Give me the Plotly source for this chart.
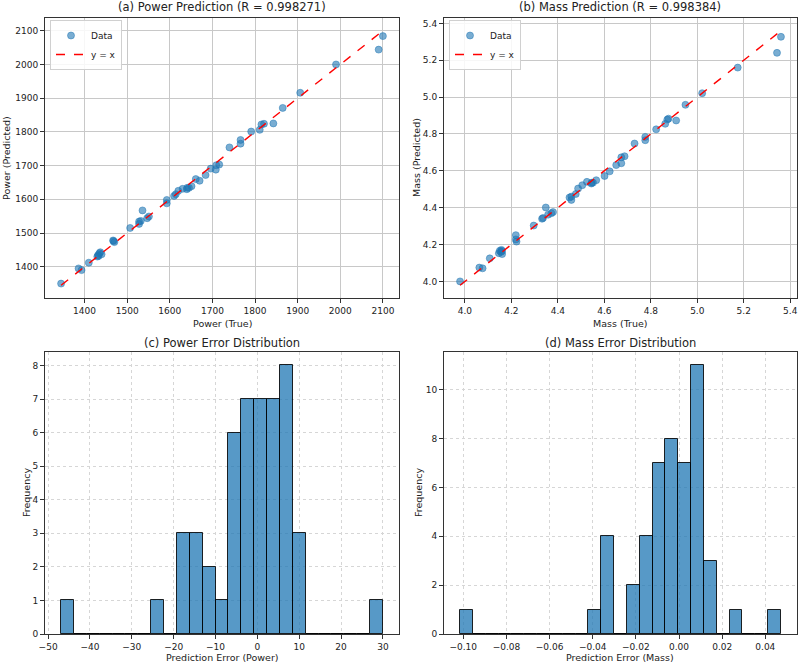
import plotly.graph_objects as go

# ---------------- Data ----------------
power_true = [1345, 1386, 1393, 1410, 1430, 1432, 1435, 1437, 1440, 1433,
              1467, 1470, 1468, 1507, 1528, 1528, 1532, 1536, 1547, 1551,
              1593, 1593, 1610, 1614, 1620, 1630, 1641, 1645, 1651, 1640,
              1661, 1670, 1684, 1696, 1708, 1709, 1716, 1740, 1766, 1766,
              1791, 1811, 1815, 1821, 1843, 1865, 1906, 1990, 2090, 2100]
power_pred = [1350, 1395, 1390, 1412, 1430, 1435, 1440, 1443, 1437, 1432,
              1478, 1473, 1476, 1515, 1534, 1527, 1536, 1567, 1544, 1549,
              1598, 1588, 1610, 1615, 1625, 1631, 1634, 1634, 1639, 1630,
              1660, 1655, 1672, 1691, 1688, 1701, 1703, 1754, 1776, 1765,
              1801, 1806, 1822, 1824, 1825, 1871, 1916, 2000, 2044, 2084]

mass_true = [3.979, 4.062, 4.076, 4.107, 4.146, 4.150, 4.157, 4.160, 4.155, 4.160,
             4.219, 4.219, 4.222, 4.296, 4.332, 4.336, 4.348, 4.358, 4.372, 4.379,
             4.458, 4.458, 4.450, 4.477, 4.487, 4.505, 4.525, 4.544, 4.551, 4.545,
             4.565, 4.601, 4.623, 4.651, 4.673, 4.673, 4.687, 4.730, 4.776, 4.776,
             4.823, 4.862, 4.871, 4.876, 4.909, 4.949, 5.021, 5.174, 5.343, 5.360]
mass_pred = [4.000, 4.075, 4.071, 4.125, 4.153, 4.166, 4.171, 4.148, 4.160, 4.165,
             4.251, 4.228, 4.216, 4.303, 4.340, 4.344, 4.401, 4.362, 4.370, 4.376,
             4.460, 4.442, 4.455, 4.474, 4.504, 4.522, 4.540, 4.531, 4.536, 4.535,
             4.549, 4.572, 4.597, 4.631, 4.641, 4.673, 4.679, 4.748, 4.784, 4.766,
             4.825, 4.855, 4.878, 4.883, 4.873, 4.958, 5.021, 5.160, 5.240, 5.327]

power_r = "0.998271"
mass_r = "0.998384"

# histogram bins (25 bins each): start, width, counts
power_bin_start = -46.9
power_bin_width = 3.076
power_counts = [1, 0, 0, 0, 0, 0, 0, 1, 0, 3, 3, 2, 1, 6, 7, 7, 7, 8, 3, 0, 0, 0, 0, 0, 1]

mass_bin_start = -0.1015
mass_bin_width = 0.00595
mass_counts = [1, 0, 0, 0, 0, 0, 0, 0, 0, 0, 1, 4, 0, 2, 4, 7, 8, 7, 11, 3, 0, 1, 0, 0, 1]

power_x_ticks = [1400, 1500, 1600, 1700, 1800, 1900, 2000, 2100]
mass_ticks = [4.0, 4.2, 4.4, 4.6, 4.8, 5.0, 5.2, 5.4]
perr_ticks = [-50, -40, -30, -20, -10, 0, 10, 20, 30]
merr_ticks = [-0.10, -0.08, -0.06, -0.04, -0.02, 0.00, 0.02, 0.04]

# ---------------- Styling ----------------
FONT = "DejaVu Sans"
BLUE = "rgba(31,119,180,0.6)"
BAR = "rgba(31,119,180,0.75)"
TICK = 9
LAB = 9.5
TIT = 11.5
W, H = 800, 664

def px(x):
    return x / W

def py(y):
    return 1 - y / H

fig = go.Figure()

# ---- (a) Power scatter
lo_p = min(min(power_true), min(power_pred))
hi_p = max(max(power_true), max(power_pred))
fig.add_trace(go.Scatter(x=power_true, y=power_pred, mode="markers", name="Data",
                         marker=dict(color=BLUE, size=7, line=dict(width=0.6, color="rgba(31,119,180,0.8)")),
                         xaxis="x", yaxis="y", legend="legend"))
fig.add_trace(go.Scatter(x=[lo_p, hi_p], y=[lo_p, hi_p], mode="lines", name="y = x",
                         line=dict(color="red", dash="dash", width=1.4),
                         xaxis="x", yaxis="y", legend="legend"))

# ---- (b) Mass scatter
lo_m = min(min(mass_true), min(mass_pred))
hi_m = max(max(mass_true), max(mass_pred))
fig.add_trace(go.Scatter(x=mass_true, y=mass_pred, mode="markers", name="Data",
                         marker=dict(color=BLUE, size=7, line=dict(width=0.6, color="rgba(31,119,180,0.8)")),
                         xaxis="x2", yaxis="y2", legend="legend2"))
fig.add_trace(go.Scatter(x=[lo_m, hi_m], y=[lo_m, hi_m], mode="lines", name="y = x",
                         line=dict(color="red", dash="dash", width=1.4),
                         xaxis="x2", yaxis="y2", legend="legend2"))

# ---- (c) Power error histogram
pc = [power_bin_start + (i + 0.5) * power_bin_width for i in range(len(power_counts))]
fig.add_trace(go.Bar(x=pc, y=power_counts, width=power_bin_width, showlegend=False,
                     marker=dict(color=BAR, line=dict(color="rgba(0,0,0,0.85)", width=1)),
                     xaxis="x3", yaxis="y3"))

# ---- (d) Mass error histogram
mc = [mass_bin_start + (i + 0.5) * mass_bin_width for i in range(len(mass_counts))]
fig.add_trace(go.Bar(x=mc, y=mass_counts, width=mass_bin_width, showlegend=False,
                     marker=dict(color=BAR, line=dict(color="rgba(0,0,0,0.85)", width=1)),
                     xaxis="x4", yaxis="y4"))

def axis(domain, anchor, rng, ticks, grid_dash="solid", gridcolor="#c8c8c8", fmt=None):
    d = dict(domain=domain, anchor=anchor, range=rng, tickvals=ticks,
             showline=True, mirror=True, linecolor="#333", linewidth=1,
             ticks="outside", ticklen=4, tickcolor="#333", tickwidth=1,
             showgrid=True, gridcolor=gridcolor, gridwidth=1, griddash=grid_dash,
             zeroline=False, automargin=False,
             tickfont=dict(family=FONT, size=TICK, color="#222"))
    if fmt:
        d["tickformat"] = fmt
    return d

# domains (pixels)
ax_a = (45, 399); ay_top = (18, 298)
ax_b = (444, 797)
ay_bot = (352, 634)

xd_a = [px(ax_a[0]), px(ax_a[1])]
xd_b = [px(ax_b[0]), px(ax_b[1])]
yd_top = [py(ay_top[1]), py(ay_top[0])]
yd_bot = [py(ay_bot[1]), py(ay_bot[0])]

pm = 0.05 * (hi_p - lo_p)
mm = 0.05 * (hi_m - lo_m)
pe_lo = power_bin_start
pe_hi = power_bin_start + len(power_counts) * power_bin_width
me_lo = mass_bin_start
me_hi = mass_bin_start + len(mass_counts) * mass_bin_width

HDASH = "3px,3px"
HGRID = "#d6d6d6"

layout = dict(
    width=W, height=H,
    margin=dict(l=0, r=0, t=0, b=0),
    paper_bgcolor="white", plot_bgcolor="white",
    font=dict(family=FONT, size=TICK, color="#222"),
    bargap=0,
    xaxis=axis(xd_a, "y", [lo_p - pm, hi_p + pm], power_x_ticks),
    yaxis=axis(yd_top, "x", [lo_p - pm, hi_p + pm], power_x_ticks),
    xaxis2=axis(xd_b, "y2", [lo_m - mm, hi_m + mm], mass_ticks, fmt=".1f"),
    yaxis2=axis(yd_top, "x2", [lo_m - mm, hi_m + mm], mass_ticks, fmt=".1f"),
    xaxis3=axis(xd_a, "y3", [pe_lo - 0.05 * (pe_hi - pe_lo), pe_hi + 0.05 * (pe_hi - pe_lo)], perr_ticks,
                grid_dash=HDASH, gridcolor=HGRID),
    yaxis3=axis(yd_bot, "x3", [0, max(power_counts) * 1.05], list(range(0, 9)),
                grid_dash=HDASH, gridcolor=HGRID),
    xaxis4=axis(xd_b, "y4", [me_lo - 0.05 * (me_hi - me_lo), me_hi + 0.05 * (me_hi - me_lo)], merr_ticks,
                grid_dash=HDASH, gridcolor=HGRID, fmt=".2f"),
    yaxis4=axis(yd_bot, "x4", [0, max(mass_counts) * 1.05], [0, 2, 4, 6, 8, 10],
                grid_dash=HDASH, gridcolor=HGRID),
    legend=dict(x=px(50), y=py(20), xanchor="left", yanchor="top",
                bgcolor="rgba(255,255,255,0.85)", bordercolor="#d0d0d0", borderwidth=1,
                font=dict(family=FONT, size=9, color="#222"), itemwidth=30, tracegroupgap=0),
    legend2=dict(x=px(449), y=py(20), xanchor="left", yanchor="top",
                 bgcolor="rgba(255,255,255,0.85)", bordercolor="#d0d0d0", borderwidth=1,
                 font=dict(family=FONT, size=9, color="#222"), itemwidth=30, tracegroupgap=0),
)
fig.update_layout(**layout)

ann = []
def title(text, xc, yc, size=TIT):
    ann.append(dict(text=text, x=px(xc), y=py(yc), xref="paper", yref="paper",
                    showarrow=False, xanchor="center", yanchor="middle",
                    font=dict(family=FONT, size=size, color="#222")))

def ytitle(text, xc, yc):
    ann.append(dict(text=text, x=px(xc), y=py(yc), xref="paper", yref="paper",
                    showarrow=False, xanchor="center", yanchor="middle", textangle=-90,
                    font=dict(family=FONT, size=LAB, color="#222")))

title(f"(a) Power Prediction (R = {power_r})", 222, 7)
title(f"(b) Mass Prediction (R = {mass_r})", 620, 7)
title("(c) Power Error Distribution", 222, 343)
title("(d) Mass Error Distribution", 620, 343)
title("Power (True)", 222, 323, LAB)
title("Mass (True)", 620, 323, LAB)
title("Prediction Error (Power)", 222, 657, LAB)
title("Prediction Error (Mass)", 620, 657, LAB)
ytitle("Power (Predicted)", 7, 158)
ytitle("Mass (Predicted)", 417, 158)
ytitle("Frequency", 26, 493)
ytitle("Frequency", 418, 493)

fig.update_layout(annotations=ann)

fig.write_html("out.html")
